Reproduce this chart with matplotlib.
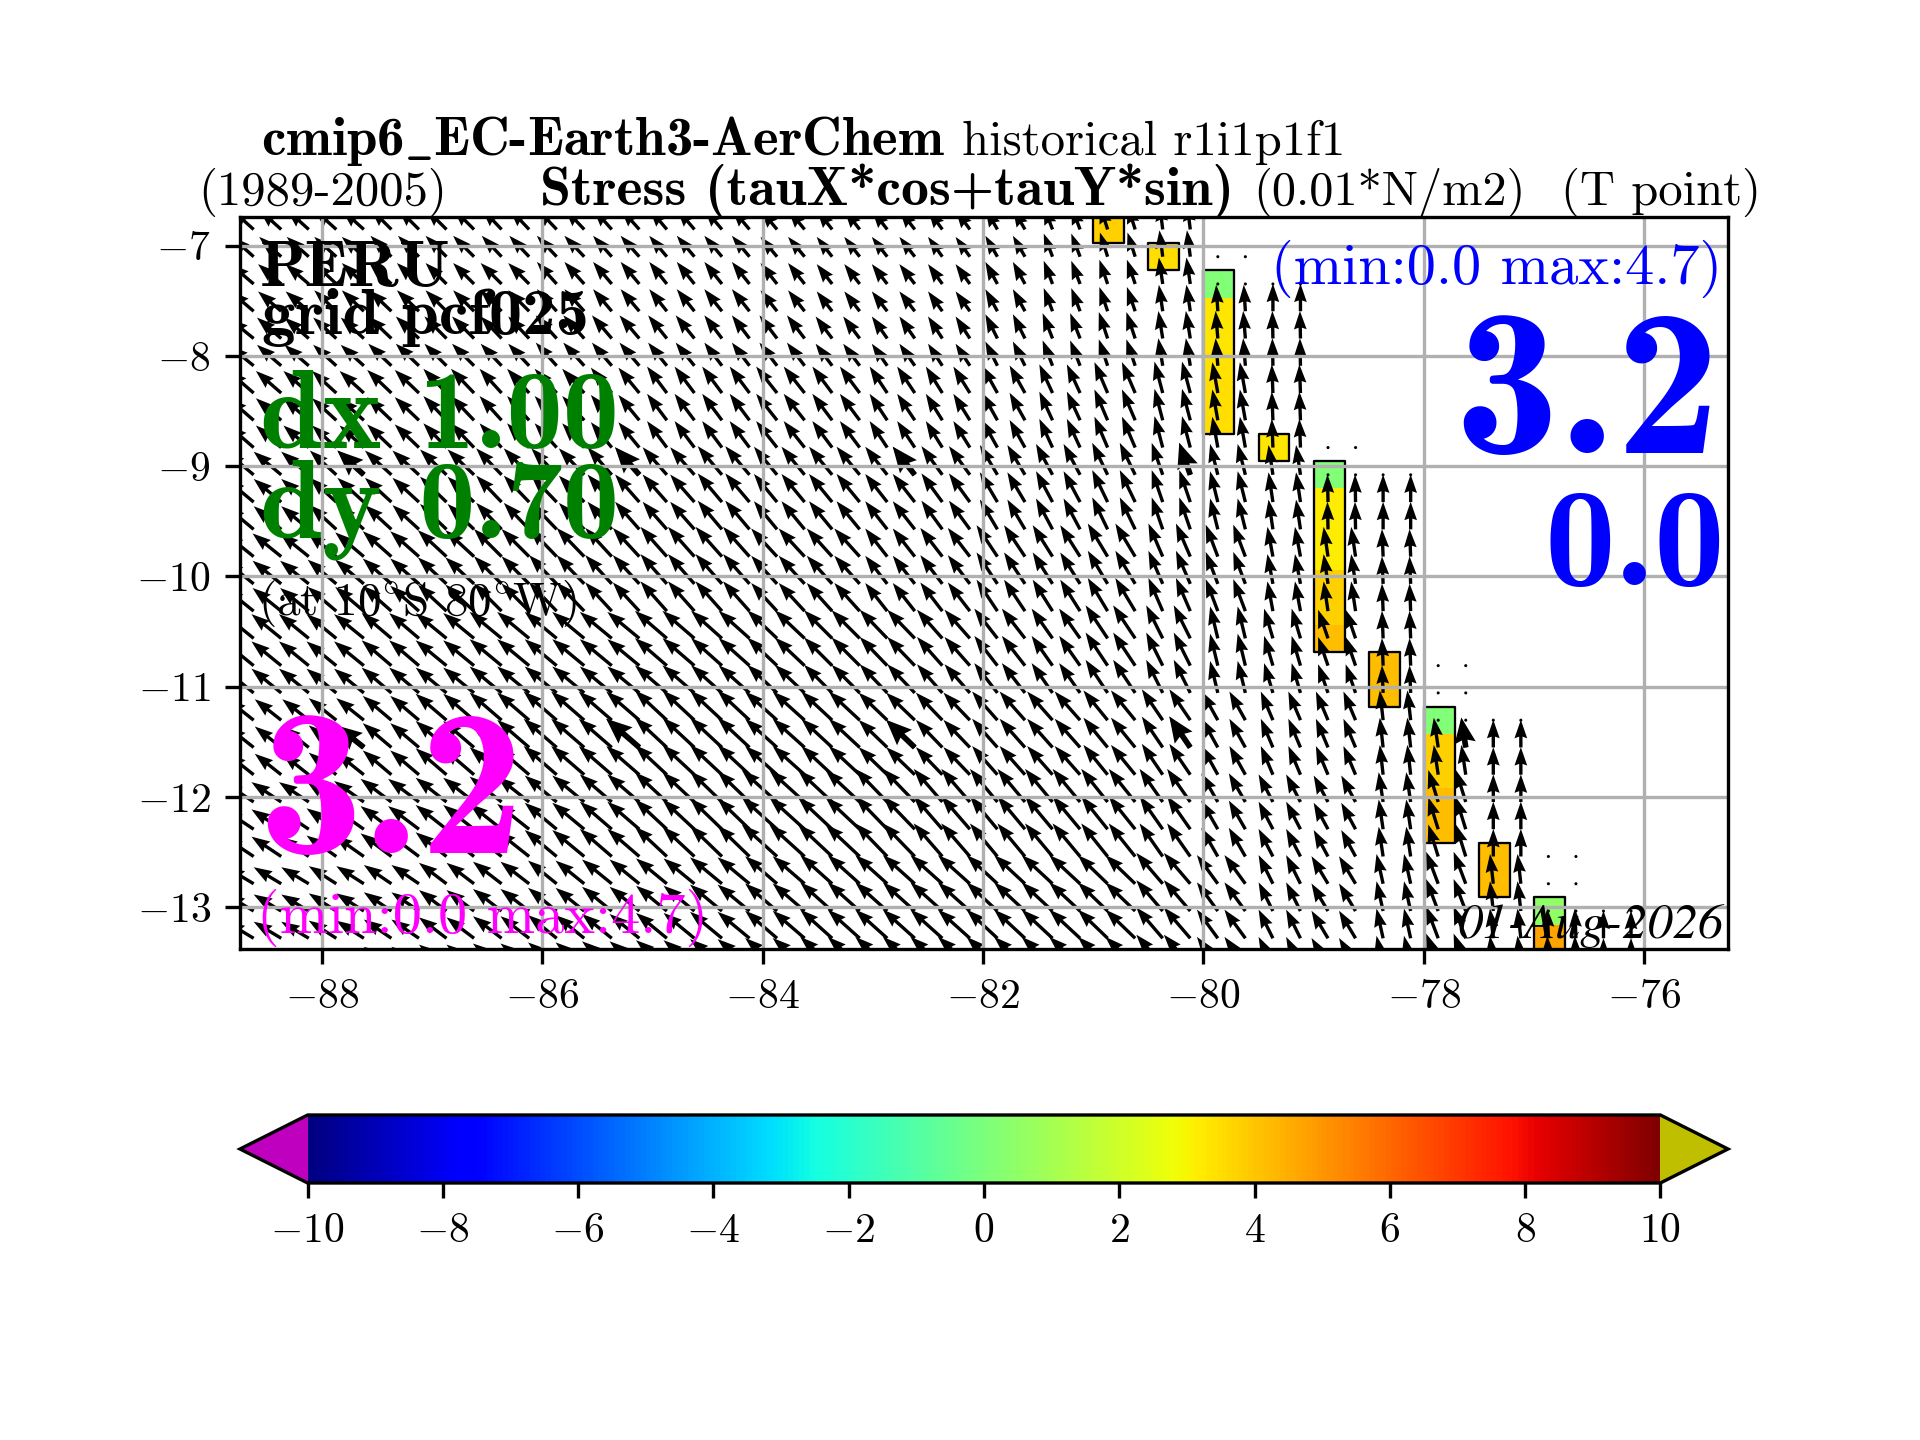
import numpy as np
import matplotlib
matplotlib.use('Agg')
import matplotlib.pyplot as plt
from matplotlib.patches import Rectangle

n = np.nan

# wind stress vectors, one row per latitude band, one column per pair of grid columns
TAUX = [
    [-2.0,-2.0,-2.0,-1.9,-1.9,-1.8,-1.8,-1.7,-1.6,-1.6,-1.5,-1.4,-1.4,-1.3,-1.1,-0.8,-0.7,-0.3,n,n,n,n,n,n,n,n],
    [-2.1,-2.1,-2.0,-2.0,-1.9,-1.9,-1.8,-1.7,-1.6,-1.6,-1.5,-1.4,-1.4,-1.3,-1.1,-0.8,-0.75,-0.35,-0.15,0.0,n,n,n,n,n,n],
    [-2.2,-2.2,-2.1,-2.1,-2.0,-1.9,-1.9,-1.8,-1.7,-1.6,-1.6,-1.5,-1.4,-1.3,-1.1,-0.9,-0.8,-0.4,-0.2,-0.05,n,n,n,n,n,n],
    [-2.3,-2.3,-2.2,-2.2,-2.1,-2.0,-2.0,-1.9,-1.8,-1.8,-1.9,-1.8,-1.6,-1.5,-1.4,-1.2,-1.2,-0.75,-0.5,-0.1,n,n,n,n,n,n],
    [-2.5,-2.5,-2.4,-2.4,-2.4,-2.3,-2.3,-2.2,-2.2,-2.2,-2.1,-2.1,-2.0,-1.9,-1.6,-1.5,-1.4,-1.0,-0.7,-0.4,-0.05,0.0,n,n,n,n],
    [-2.6,-2.6,-2.6,-2.6,-2.6,-2.5,-2.5,-2.4,-2.4,-2.4,-2.35,-2.3,-2.0,-2.0,-1.9,-1.8,-1.8,-1.3,-1.1,-0.5,-0.4,-0.1,n,n,n,n],
    [-2.7,-2.7,-2.7,-2.7,-2.8,-2.9,-2.9,-2.9,-2.9,-2.8,-2.7,-2.55,-2.5,-2.3,-2.1,-1.9,-2.0,-1.5,-0.7,-0.8,-0.9,-0.1,n,n,n,n],
    [-2.4,-2.4,-2.5,-2.6,-2.8,-2.9,-3.0,-3.0,-2.9,-2.9,-2.9,-2.8,-2.6,-2.4,-2.3,-2.3,-2.2,-1.9,-1.45,-1.1,-1.1,-0.3,-0.4,0.0,n,n],
    [-2.7,-2.7,-2.7,-2.8,-2.8,-2.9,-2.9,-2.9,-2.9,-2.9,-3.2,-3.1,-2.9,-2.6,-2.5,-2.5,-2.4,-2.1,-1.5,-1.3,-1.3,-0.4,-0.9,0.0,n,n],
    [-2.5,-2.5,-2.5,-2.5,-2.5,-2.6,-2.6,-2.7,-2.8,-2.9,-2.9,-2.9,-2.9,-2.9,-2.8,-2.8,-2.7,-2.4,-1.9,-1.3,-1.5,-0.6,-1.1,-0.3,-0.1,0.0],
]
TAUY = [
    [1.8,1.8,1.8,1.9,1.9,1.9,1.9,1.9,1.9,1.9,1.8,1.8,1.8,1.8,1.9,2.1,2.2,2.4,n,n,n,n,n,n,n,n],
    [1.8,1.8,1.9,1.9,1.9,1.9,2.0,2.0,2.0,2.0,1.9,1.8,1.8,1.8,2.0,2.1,2.2,2.4,2.4,2.5,n,n,n,n,n,n],
    [1.8,1.9,1.9,2.0,2.0,2.0,2.1,2.1,2.1,2.1,2.1,2.0,2.0,2.0,2.2,2.3,2.4,2.5,2.5,2.5,n,n,n,n,n,n],
    [2.0,2.0,2.0,2.1,2.2,2.2,2.2,2.3,2.4,2.4,2.4,2.4,2.4,2.4,2.5,2.6,2.8,2.85,2.8,2.6,n,n,n,n,n,n],
    [2.1,2.1,2.2,2.2,2.3,2.4,2.4,2.5,2.5,2.6,2.55,2.55,2.55,2.6,2.7,2.8,2.9,2.9,2.8,2.7,2.5,2.5,n,n,n,n],
    [2.1,2.1,2.2,2.3,2.4,2.5,2.6,2.6,2.7,2.7,2.55,2.55,2.55,2.6,2.85,2.85,3.0,3.0,2.9,2.7,2.7,2.5,n,n,n,n],
    [2.2,2.2,2.2,2.3,2.3,2.4,2.4,2.4,2.5,2.5,2.55,2.55,2.6,2.6,2.7,2.7,3.0,3.0,2.9,2.7,2.6,2.5,n,n,n,n],
    [1.9,1.9,2.0,2.2,2.4,2.5,2.6,2.6,2.7,2.7,2.6,2.6,2.5,2.5,2.6,2.6,2.7,2.8,2.6,2.6,2.6,2.7,2.7,2.5,n,n],
    [1.8,1.8,1.9,2.1,2.2,2.3,2.4,2.5,2.7,2.8,2.9,2.9,3.0,3.0,3.0,3.0,3.0,3.0,2.6,2.5,2.4,2.7,2.9,2.5,n,n],
    [1.5,1.5,1.6,1.7,1.9,2.0,2.1,2.2,2.3,2.4,2.5,2.6,2.6,2.6,2.6,2.6,2.6,2.8,2.6,2.6,2.5,2.7,2.9,2.7,2.7,2.5],
]
# grid rows covered by each latitude band
BAND_ROWS = [[0, 1], [2, 3], [4, 5], [6, 7, 8], [9, 10, 11], [12, 13, 14],
             [15, 16, 17], [18, 19, 20], [21, 22, 23], [24, 25, 26, 27]]
# first ocean row of each column pair, and rows where the vector is zero
FIRST_ROW = {18: 3, 19: 3, 20: 10, 21: 10, 22: 19, 23: 19, 24: 26, 25: 26}
CALM_ROWS = {18: [1, 2], 19: [2], 20: [8, 9], 21: [9], 22: [16, 17, 18], 23: [18],
             24: [23, 24, 25], 25: [25]}

# shaded coast cells: column of the mesh, first mesh row, value per row
COAST_CELLS = [
    (0, 0, [3.8]),
    (2, 1, [3.5]),
    (4, 2, [0.1, 3.3, 3.3, 3.4, 3.5, 3.5]),
    (6, 8, [3.3]),
    (8, 9, [0.1, 3.2, 3.2, 3.2, 3.8, 3.8, 4.2]),
    (10, 16, [4.2, 4.2]),
    (12, 18, [0.1, 3.8, 3.8, 4.2, 4.2]),
    (14, 23, [4.2, 4.2]),
    (16, 25, [0.5, 4.7, 4.7]),
]

XTICKS = [-88, -86, -84, -82, -80, -78, -76]
YTICKS = [-13, -12, -11, -10, -9, -8, -7]
CBAR_TICKS = [-10, -8, -6, -4, -2, 0, 2, 4, 6, 8, 10]

plt.rcParams['font.family'] = ['cmr10']
plt.rcParams['mathtext.fontset'] = 'cm'
plt.rcParams['axes.formatter.use_mathtext'] = True
plt.rcParams['axes.unicode_minus'] = True

fig = plt.figure(figsize=(6.4, 4.8), dpi=300)
ax = fig.add_axes([0.125, 491 / 1440, 0.775, 732 / 1440])
ax.set_xlim(-88.744, -75.24)
ax.set_ylim(-13.38, -6.74)

# regular 0.25 deg model output grid
lons = -88.87 + 0.25 * np.arange(54)
lats = -6.853 - 0.2473 * np.arange(28)

tau_x = np.full((28, 54), np.nan)
tau_y = np.full((28, 54), np.nan)
for band, rows in enumerate(BAND_ROWS):
    for pair in range(26):
        for row in rows:
            if row >= FIRST_ROW.get(pair, 0):
                tau_x[row, 2 * pair:2 * pair + 2] = TAUX[band][pair]
                tau_y[row, 2 * pair:2 * pair + 2] = TAUY[band][pair]
for pair, rows in CALM_ROWS.items():
    for row in rows:
        tau_x[row, 2 * pair:2 * pair + 2] = 0.0
        tau_y[row, 2 * pair:2 * pair + 2] = 0.0

# coast shading
jet = plt.get_cmap('jet').copy()
jet.set_under((0.75, 0, 0.75))
jet.set_over((0.75, 0.75, 0))

# shaded columns are a bit wider than the masked ones between them
x_edges = -81 + 0.25 * np.arange(18)
x_edges[1::2] += 0.03
y_edges = -6.729 - 0.2473 * np.arange(29)
shade = np.full((28, 17), np.nan)
for col, first, values in COAST_CELLS:
    shade[first:first + len(values), col] = values
mesh = ax.pcolormesh(x_edges, y_edges, np.ma.masked_invalid(shade), cmap=jet, vmin=-10, vmax=10, zorder=0.5)
for col, first, values in COAST_CELLS:
    ax.add_patch(Rectangle((x_edges[col], y_edges[first + len(values)]), x_edges[col + 1] - x_edges[col],
                           y_edges[first] - y_edges[first + len(values)],
                           fill=False, ec='k', lw=0.55, joinstyle='round', zorder=0.6))

lon2d, lat2d = np.meshgrid(lons, lats)
ax.quiver(lon2d, lat2d, tau_x, tau_y, angles='xy', scale_units='xy', scale=10,
          width=0.00225, headwidth=3.8, headlength=5.5, headaxislength=5, color='k')

# every tenth column on two rows has the fat arrow
big_rows = [9, 19]
big_cols = np.arange(5, 54, 10)
ax.quiver(lon2d[np.ix_(big_rows, big_cols)], lat2d[np.ix_(big_rows, big_cols)],
          tau_x[np.ix_(big_rows, big_cols)], tau_y[np.ix_(big_rows, big_cols)],
          angles='xy', scale_units='xy', scale=10,
          width=0.0038, headwidth=3.8, headlength=4.5, headaxislength=4, color='k')

ax.grid(True)
ax.set_xticks(XTICKS)
ax.set_yticks(YTICKS)


def put(x, y, s, size, color='k', family='cmr10', ha='left', **kw):
    return fig.text(x / 1920, 1 - y / 1440, s, fontsize=size, color=color, family=family,
                    ha=ha, va='baseline', **kw)


# titles
put(261, 155, r'cmip6$\mathbf{\_}$EC-Earth3-AerChem', 13.2, family='cmb10')
put(962, 155, 'historical r1i1p1f1', 11.7)
put(198, 205, '(1989-2005)', 11.7)
put(540, 205, 'Stress (tauX*cos+tauY*sin)', 13.4, family='cmb10')
put(1253, 205, '(0.01*N/m2)', 11.6)
put(1761, 205, '(T point)', 11.7, ha='right')

# labels inside the map
put(260, 286, 'PERU', 16, family='cmb10')
put(262, 334, 'grid pcf025', 16, family='cmb10')
put(260, 448, 'dx 1.00', 27, color='green', family='cmb10')
put(260, 538, 'dy 0.70', 27, color='green', family='cmb10')
put(258, 615, r'(at 10$^{\circ}$S 80$^{\circ}$W)', 11.3)
put(258, 853, '3.2', 50, color='magenta', family='cmb10')
put(257, 933, '(min:0.0 max:4.7)', 14, color='magenta')
put(1722, 284, '(min:0.0 max:4.7)', 14, color='blue', ha='right')
put(1720, 453, '3.2', 50, color='blue', family='cmb10', ha='right')
put(1725, 585, '0.0', 34, color='blue', family='cmb10', ha='right')
put(1724, 938, '01-Aug-2026', 12.1, family='STIXGeneral', style='italic', ha='right')

cax = fig.add_axes([0.125, 257 / 1440, 0.775, 68 / 1440])
cbar = fig.colorbar(mesh, cax=cax, orientation='horizontal', extend='both')
cbar.set_ticks(CBAR_TICKS)

fig.savefig('out.png', dpi=300)
